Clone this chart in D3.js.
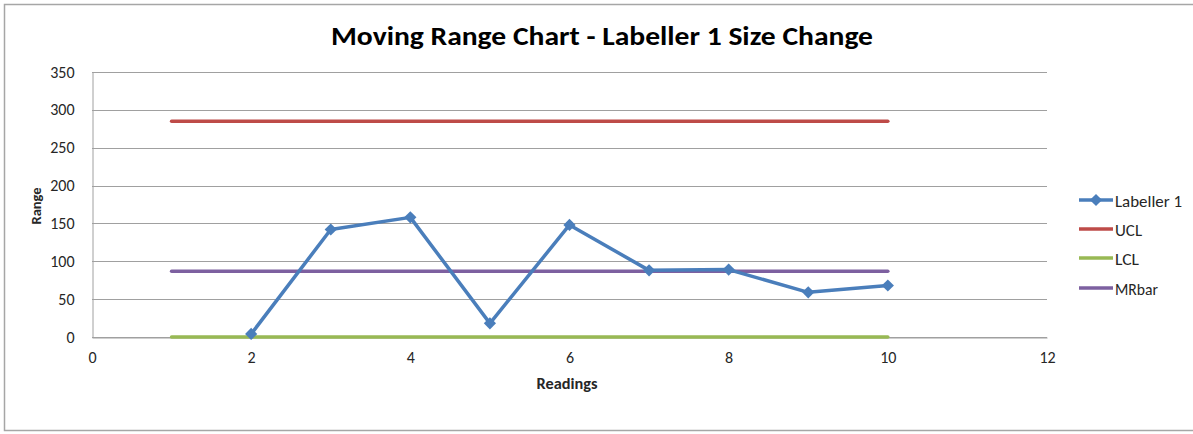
<!DOCTYPE html>
<html><head><meta charset="utf-8">
<script src="https://cdn.jsdelivr.net/npm/d3@7"></script>
<style>body{margin:0;background:#fff}svg{display:block}</style>
</head><body>
<svg id="chart" width="1193" height="434"></svg>
<script>
const title = "Moving Range Chart - Labeller 1 Size Change";
const readings = [2, 3, 4, 5, 6, 7, 8, 9, 10];
const labeller1 = [4, 142, 158, 18, 148, 88, 89, 59, 68];
const limitX = [1, 10];
const ucl = [285, 285];
const lcl = [0, 0];
const mrbar = [87, 87];
const xTicks = [0, 2, 4, 6, 8, 10, 12];
const yTicks = [0, 50, 100, 150, 200, 250, 300, 350];
const seriesNames = ["Labeller 1", "UCL", "LCL", "MRbar"];
const seriesColors = ["#4a7ebb", "#be4b48", "#98b954", "#7d60a0"];

const svg = d3.select("#chart");
const font = "Carlito, Calibri, Lato, sans-serif";
const textCol = "#262626";

svg.append("rect").attr("x", 4.5).attr("y", 4.5).attr("width", 1200).attr("height", 426)
  .attr("fill", "#fff").attr("stroke", "#a6a6a6").attr("stroke-width", 1.5);

const x = d3.scaleLinear().domain([0, 12]).range([92, 1047]);
const y = d3.scaleLinear().domain([0, 350]).range([337, 72]);

// gridlines
svg.append("g").selectAll("line").data(yTicks).join("line")
  .attr("x1", x(0)).attr("x2", x(12))
  .attr("y1", d => Math.round(y(d)) + 0.5).attr("y2", d => Math.round(y(d)) + 0.5)
  .attr("stroke", "#a0a0a0").attr("stroke-width", 1);

// y axis
const yAxis = svg.append("g").attr("transform", `translate(${x(0) + 0.5},0)`)
  .call(d3.axisLeft(y).tickValues(yTicks).tickSize(0).tickPadding(18));
yAxis.select(".domain").attr("stroke", "#a0a0a0");
yAxis.selectAll("text").attr("font-family", font).attr("font-size", 16).attr("fill", textCol);

// x axis
const xAxis = svg.append("g").attr("transform", `translate(0,${Math.round(y(0)) + 0.5})`)
  .call(d3.axisBottom(x).tickValues(xTicks).tickSize(0).tickPadding(14));
xAxis.select(".domain").attr("stroke", "#a0a0a0");
xAxis.selectAll("text").attr("font-family", font).attr("font-size", 16).attr("fill", textCol);

// limit lines
const lineGen = d3.line().x(d => x(d[0])).y(d => y(d[1]));
[[ucl, 1], [lcl, 2], [mrbar, 3]].forEach(([vals, i]) => {
  svg.append("path").datum(limitX.map((v, k) => [v, vals[k]]))
    .attr("d", lineGen).attr("fill", "none").attr("stroke", seriesColors[i])
    .attr("stroke-width", 3.5).attr("stroke-linecap", "round");
});

// main series
svg.append("path").datum(readings.map((v, k) => [v, labeller1[k]]))
  .attr("d", lineGen).attr("fill", "none").attr("stroke", seriesColors[0])
  .attr("stroke-width", 3.5).attr("stroke-linejoin", "round");
const diamond = d3.symbol().type(d3.symbolDiamond2).size(95);
svg.append("g").selectAll("path").data(readings.map((v, k) => [v, labeller1[k]])).join("path")
  .attr("d", diamond).attr("transform", d => `translate(${x(d[0])},${y(d[1])})`)
  .attr("fill", seriesColors[0]);

// title
svg.append("text").attr("x", 602).attr("y", 45).attr("text-anchor", "middle")
  .attr("font-family", font).attr("font-weight", "bold").attr("font-size", 26)
  .attr("textLength", 542).attr("lengthAdjust", "spacingAndGlyphs")
  .attr("fill", "#000").text(title);

// axis titles
svg.append("text").attr("x", 567).attr("y", 389).attr("text-anchor", "middle")
  .attr("font-family", font).attr("font-weight", "bold").attr("font-size", 15)
  .attr("textLength", 61).attr("lengthAdjust", "spacingAndGlyphs")
  .attr("fill", textCol).text("Readings");
svg.append("text").attr("transform", "translate(41,206) rotate(-90)").attr("text-anchor", "middle")
  .attr("font-family", font).attr("font-weight", "bold").attr("font-size", 13)
  .attr("textLength", 37).attr("lengthAdjust", "spacingAndGlyphs")
  .attr("fill", textCol).text("Range");

// legend
const legY = [200, 229, 258, 288];
const leg = svg.append("g").selectAll("g").data(seriesNames).join("g")
  .attr("transform", (d, i) => `translate(1079,${legY[i]})`);
leg.append("line").attr("x1", 0).attr("x2", 34).attr("y1", 0).attr("y2", 0)
  .attr("stroke", (d, i) => seriesColors[i]).attr("stroke-width", 3.5);
leg.filter((d, i) => i === 0).append("path").attr("d", diamond).attr("transform", "translate(17,0)")
  .attr("fill", seriesColors[0]);
leg.append("text").attr("x", 36).attr("y", 1).attr("dy", "0.35em")
  .attr("font-family", font).attr("font-size", 16).attr("fill", textCol).text(d => d)
  .each(function(d, i) {
    const w = [67, 27, 24, 43][i];
    d3.select(this).attr("textLength", w).attr("lengthAdjust", "spacingAndGlyphs");
  });
</script>
</body></html>
